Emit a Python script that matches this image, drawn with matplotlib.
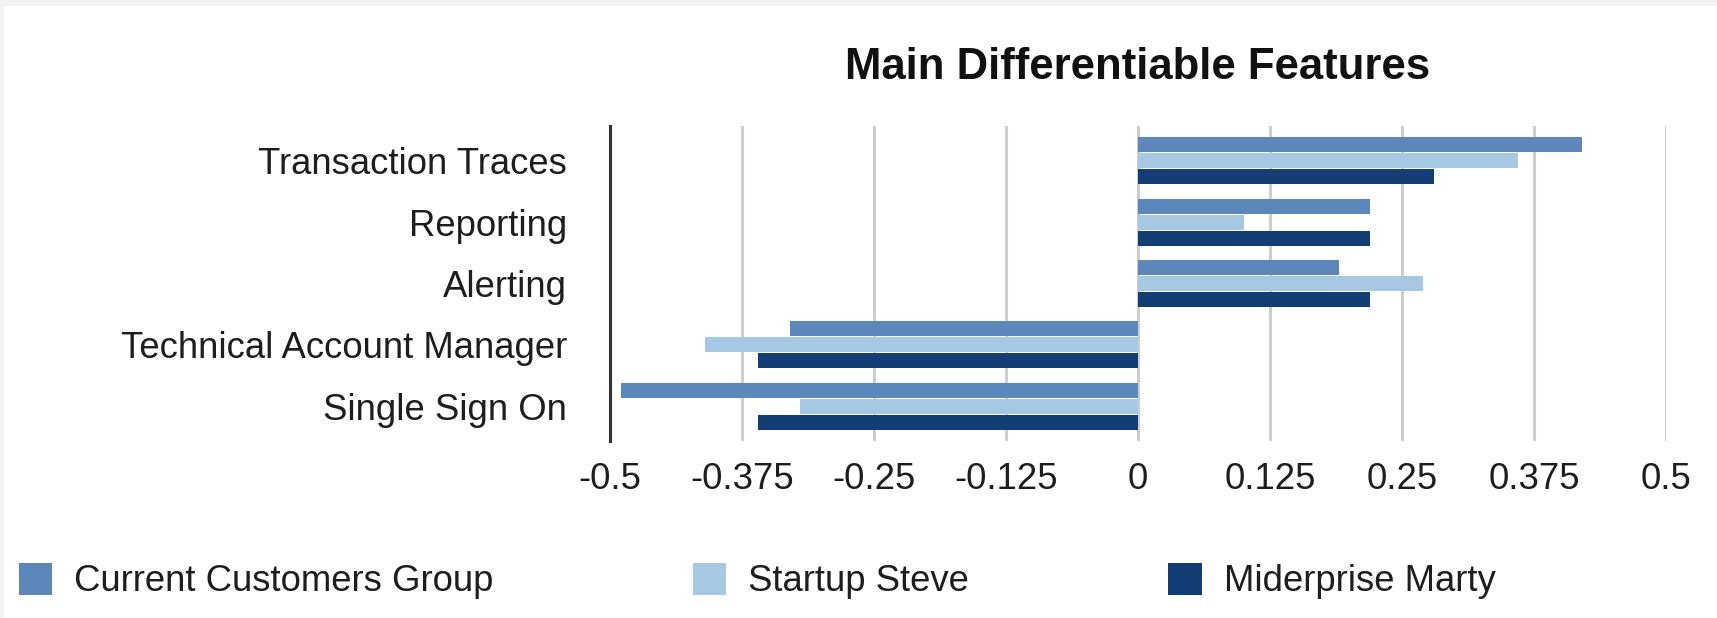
import numpy as np
import matplotlib
matplotlib.use("Agg")
import matplotlib.pyplot as plt
from matplotlib.patches import Rectangle

plt.rcParams['font.family'] = ['Liberation Sans', 'DejaVu Sans']

features = ['Transaction Traces', 'Reporting', 'Alerting',
            'Technical Account Manager', 'Single Sign On']
series = ['Current Customers Group', 'Startup Steve', 'Miderprise Marty']
current_customers = [0.42, 0.22, 0.19, -0.33, -0.49]
startup_steve = [0.36, 0.10, 0.27, -0.41, -0.32]
miderprise_marty = [0.28, 0.22, 0.22, -0.36, -0.36]
xticks = [-0.5, -0.375, -0.25, -0.125, 0, 0.125, 0.25, 0.375, 0.5]
xtick_labels = ['-0.5', '-0.375', '-0.25', '-0.125', '0',
                '0.125', '0.25', '0.375', '0.5']

colors = ['#5b87ba', '#a6c8e3', '#133d75']

fig = plt.figure(figsize=(17.17, 6.18), dpi=100, facecolor='#f3f5f4')
# white card with a thin grey margin on top and left
fig.patches.append(Rectangle((4 / 1717, 0), 1, 1 - 6 / 618, transform=fig.transFigure,
                             facecolor='white', edgecolor='none', zorder=-1))

ax = fig.add_axes([610 / 1717, 1 - 441 / 618, 1056 / 1717, 315 / 618])
ax.set_facecolor('white')

y = np.arange(len(features))
h = 0.245
step = 0.262
for i, (vals, name) in enumerate(zip([current_customers, startup_steve, miderprise_marty], series)):
    ax.barh(y + (i - 1) * step, vals, height=h, color=colors[i], label=name, zorder=3)

ax.set_xlim(-0.5, 0.5)
ax.set_ylim(len(features) - 1 + 0.57, -0.57)
ax.set_xticks(xticks)
ax.set_xticklabels(xtick_labels)
ax.set_yticks(y)
ax.set_yticklabels(features)
ax.tick_params(axis='both', length=0, labelsize=26.3, colors='#1e1e1e')
ax.tick_params(axis='x', pad=15)
ax.tick_params(axis='y', pad=31)

ax.grid(axis='x', color='#cdcdcd', linewidth=2.2, zorder=0)
for s in ['top', 'right', 'bottom']:
    ax.spines[s].set_visible(False)
ax.spines['left'].set_color('#333333')
ax.spines['left'].set_linewidth(2.2)
ax.spines['left'].set_zorder(4)

ax.set_title('Main Differentiable Features', fontsize=31.5, fontweight='bold',
             color='#111111', pad=34)

fig.legend(loc='center left', bbox_to_anchor=(4 / 1717, 1 - 581 / 618), ncol=3,
           frameon=False, fontsize=26.3, handlelength=0.92, handleheight=1.0,
           handletextpad=0.6, columnspacing=5.45, borderaxespad=0,
           labelcolor='#1e1e1e')

fig.savefig('out.png', dpi=100, facecolor=fig.get_facecolor())
